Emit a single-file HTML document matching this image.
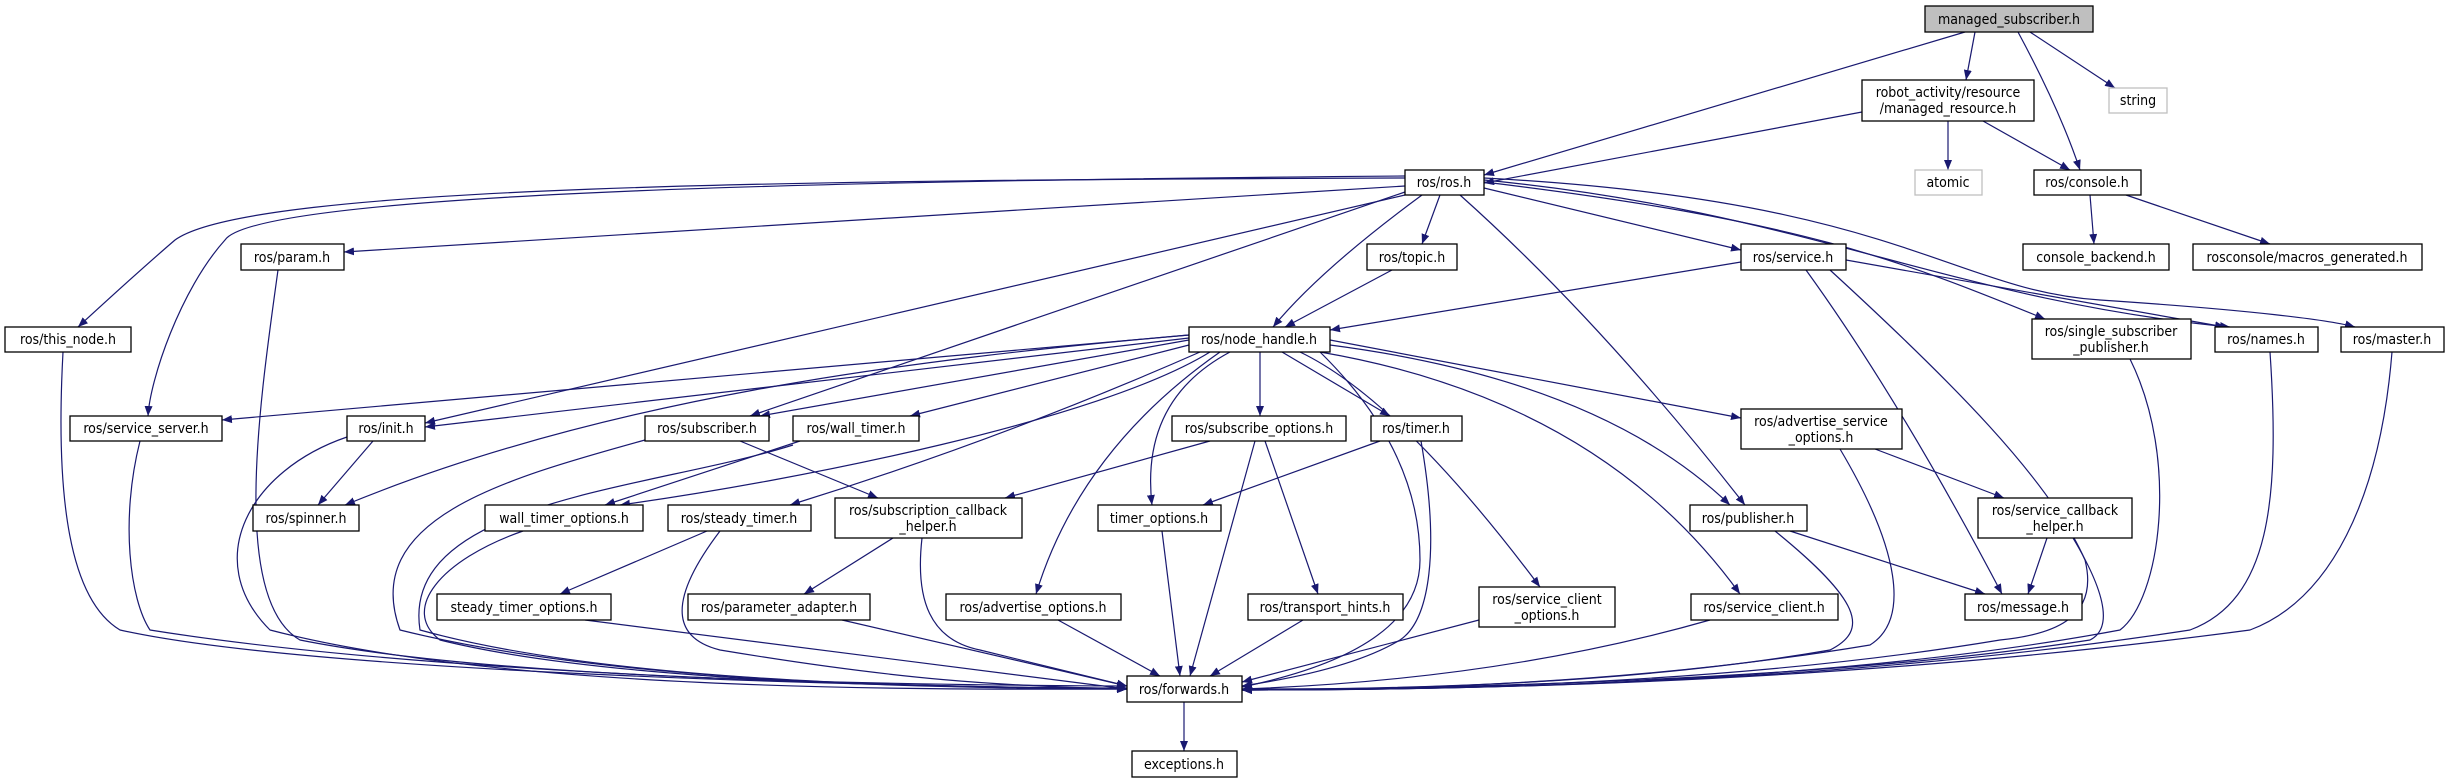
<!DOCTYPE html>
<html><head><meta charset="utf-8"><style>
html,body{margin:0;padding:0;background:#fff;}
svg{display:block;}
text{font-family:"DejaVu Sans Condensed","DejaVu Sans","Liberation Sans",sans-serif;font-size:14px;fill:#000;}
.e{fill:none;stroke:#191970;stroke-width:1.2;marker-end:url(#a);}
.b{fill:#fff;stroke:#000;stroke-width:1.3;}
.g{fill:#fff;stroke:#bfbfbf;stroke-width:1.3;}
</style></head><body>
<svg width="2451" height="783" viewBox="0 0 2451 783" xmlns="http://www.w3.org/2000/svg">
<defs><marker id="a" markerWidth="10" markerHeight="8" refX="10" refY="4" orient="auto" markerUnits="userSpaceOnUse"><path d="M0,0 L10,4 L0,8z" fill="#191970"/></marker></defs>
<g>
<path class="e" d="M1975,32 L1966,80"/>
<path class="e" d="M1965,32 L1484,175"/>
<path class="e" d="M2018,32 Q2060,110 2080,170"/>
<path class="e" d="M2030,32 L2115,88"/>
<path class="e" d="M1862,112 L1484,183"/>
<path class="e" d="M1948,121 L1948,170"/>
<path class="e" d="M1983,121 L2070,170"/>
<path class="e" d="M2090,195 L2094,244"/>
<path class="e" d="M2126,195 L2270,244"/>
<path class="e" d="M1405,178 C800,180 250,185 175,240 Q140,270 78,327"/>
<path class="e" d="M1405,186 L344,252"/>
<path class="e" d="M1440,195 L1422,244"/>
<path class="e" d="M1422,195 Q1320,270 1273,327"/>
<path class="e" d="M1484,188 L1741,250"/>
<path class="e" d="M1484,182 C1800,220 1900,260 2045,319"/>
<path class="e" d="M1484,180 C1800,210 1950,300 2230,327"/>
<path class="e" d="M1484,178 C1900,200 1950,290 2100,300 C2250,310 2330,320 2355,327"/>
<path class="e" d="M1405,176 C900,180 260,190 225,240 C180,290 150,380 148,416"/>
<path class="e" d="M1405,195 L425,423"/>
<path class="e" d="M1405,192 L750,416"/>
<path class="e" d="M1460,195 Q1600,320 1745,505"/>
<path class="e" d="M1189,335 C900,360 600,400 345,505"/>
<path class="e" d="M1392,270 L1285,327"/>
<path class="e" d="M1741,262 L1330,330"/>
<path class="e" d="M1846,260 L2225,327"/>
<path class="e" d="M1806,270 Q1900,400 2002,594"/>
<path class="e" d="M1830,270 C1950,380 2050,480 2085,560 C2100,620 2050,635 2000,640 Q1700,690 1242,690"/>
<path class="e" d="M1189,335 L222,420"/>
<path class="e" d="M1189,338 L425,427"/>
<path class="e" d="M1189,340 L760,416"/>
<path class="e" d="M1189,345 L910,416"/>
<path class="e" d="M1210,352 C1100,420 800,480 620,505"/>
<path class="e" d="M1200,352 Q1000,440 790,505"/>
<path class="e" d="M1260,352 L1260,416"/>
<path class="e" d="M1282,352 L1390,416"/>
<path class="e" d="M1230,352 Q1140,400 1152,505"/>
<path class="e" d="M1220,352 Q1080,450 1036,594"/>
<path class="e" d="M1300,352 Q1400,400 1540,587"/>
<path class="e" d="M1320,352 Q1600,400 1740,594"/>
<path class="e" d="M1330,345 Q1600,380 1730,505"/>
<path class="e" d="M1330,340 L1741,418"/>
<path class="e" d="M1320,352 Q1420,450 1420,560 Q1420,650 1242,687"/>
<path class="e" d="M278,270 C260,400 230,600 300,640 C500,680 900,685 1127,686"/>
<path class="e" d="M63,352 C55,500 70,600 120,630 C300,670 800,685 1127,689"/>
<path class="e" d="M140,441 C120,520 130,600 150,630 C400,670 800,685 1127,689"/>
<path class="e" d="M373,441 L318,505"/>
<path class="e" d="M347,437 C250,470 200,560 270,630 C500,690 900,690 1127,689"/>
<path class="e" d="M740,441 L878,498"/>
<path class="e" d="M645,440 C500,480 360,520 400,630 C600,680 900,688 1127,689"/>
<path class="e" d="M800,441 L605,505"/>
<path class="e" d="M793,445 C650,490 400,500 420,630 C600,680 900,688 1127,688"/>
<path class="e" d="M523,531 C440,560 400,610 440,640 C600,680 900,688 1127,689"/>
<path class="e" d="M707,531 L560,594"/>
<path class="e" d="M720,531 C660,610 680,640 720,650 C900,680 1000,686 1127,689"/>
<path class="e" d="M585,620 L1127,689"/>
<path class="e" d="M893,538 L804,594"/>
<path class="e" d="M922,538 C915,600 930,640 980,650 L1127,686"/>
<path class="e" d="M842,620 L1127,686"/>
<path class="e" d="M1210,441 L1005,498"/>
<path class="e" d="M1255,441 L1190,676"/>
<path class="e" d="M1265,441 L1318,594"/>
<path class="e" d="M1380,441 L1203,505"/>
<path class="e" d="M1421,441 C1440,550 1430,620 1400,640 Q1350,670 1242,686"/>
<path class="e" d="M1162,531 L1180,676"/>
<path class="e" d="M1058,620 L1160,676"/>
<path class="e" d="M1303,620 L1210,676"/>
<path class="e" d="M1479,620 L1242,682"/>
<path class="e" d="M1710,620 Q1500,680 1242,689"/>
<path class="e" d="M1790,531 L1985,594"/>
<path class="e" d="M1775,531 C1860,600 1870,630 1830,650 Q1600,690 1242,689"/>
<path class="e" d="M1875,449 L2004,498"/>
<path class="e" d="M1840,449 C1900,550 1910,620 1870,645 Q1600,690 1242,690"/>
<path class="e" d="M2047,538 L2028,594"/>
<path class="e" d="M2073,538 C2110,600 2110,630 2090,640 Q1800,685 1242,690"/>
<path class="e" d="M2130,359 C2180,460 2160,600 2120,630 Q1800,690 1242,690"/>
<path class="e" d="M2270,352 C2280,500 2270,600 2190,630 Q1800,690 1242,690"/>
<path class="e" d="M2392,352 C2380,500 2330,600 2250,630 Q1800,690 1242,690"/>
<path class="e" d="M1184,702 L1184,751"/>
</g>
<g>
<rect x="1925" y="6" width="168" height="26" fill="#bfbfbf" stroke="#000" stroke-width="1.3"/><text x="2009" y="24" text-anchor="middle">managed_subscriber.h</text>
<rect class="b" x="1862" y="80" width="172" height="41"/><text x="1948" y="97" text-anchor="middle">robot_activity/resource</text><text x="1948" y="113" text-anchor="middle">/managed_resource.h</text>
<rect class="g" x="2109" y="88" width="58" height="25"/><text x="2138" y="105" text-anchor="middle">string</text>
<rect class="b" x="1405" y="170" width="79" height="25"/><text x="1444" y="187" text-anchor="middle">ros/ros.h</text>
<rect class="g" x="1915" y="170" width="67" height="25"/><text x="1948" y="187" text-anchor="middle">atomic</text>
<rect class="b" x="2034" y="170" width="107" height="25"/><text x="2087" y="187" text-anchor="middle">ros/console.h</text>
<rect class="b" x="241" y="244" width="103" height="26"/><text x="292" y="262" text-anchor="middle">ros/param.h</text>
<rect class="b" x="1367" y="244" width="90" height="26"/><text x="1412" y="262" text-anchor="middle">ros/topic.h</text>
<rect class="b" x="1741" y="244" width="105" height="26"/><text x="1793" y="262" text-anchor="middle">ros/service.h</text>
<rect class="b" x="2023" y="244" width="146" height="26"/><text x="2096" y="262" text-anchor="middle">console_backend.h</text>
<rect class="b" x="2193" y="244" width="229" height="26"/><text x="2307" y="262" text-anchor="middle">rosconsole/macros_generated.h</text>
<rect class="b" x="5" y="327" width="126" height="25"/><text x="68" y="344" text-anchor="middle">ros/this_node.h</text>
<rect class="b" x="1189" y="327" width="141" height="25"/><text x="1259" y="344" text-anchor="middle">ros/node_handle.h</text>
<rect class="b" x="2032" y="319" width="159" height="40"/><text x="2111" y="336" text-anchor="middle">ros/single_subscriber</text><text x="2111" y="352" text-anchor="middle">_publisher.h</text>
<rect class="b" x="2215" y="327" width="103" height="25"/><text x="2266" y="344" text-anchor="middle">ros/names.h</text>
<rect class="b" x="2341" y="327" width="103" height="25"/><text x="2392" y="344" text-anchor="middle">ros/master.h</text>
<rect class="b" x="70" y="416" width="152" height="25"/><text x="146" y="433" text-anchor="middle">ros/service_server.h</text>
<rect class="b" x="347" y="416" width="78" height="25"/><text x="386" y="433" text-anchor="middle">ros/init.h</text>
<rect class="b" x="645" y="416" width="124" height="25"/><text x="707" y="433" text-anchor="middle">ros/subscriber.h</text>
<rect class="b" x="793" y="416" width="126" height="25"/><text x="856" y="433" text-anchor="middle">ros/wall_timer.h</text>
<rect class="b" x="1172" y="416" width="174" height="25"/><text x="1259" y="433" text-anchor="middle">ros/subscribe_options.h</text>
<rect class="b" x="1371" y="416" width="91" height="25"/><text x="1416" y="433" text-anchor="middle">ros/timer.h</text>
<rect class="b" x="1741" y="409" width="161" height="40"/><text x="1821" y="426" text-anchor="middle">ros/advertise_service</text><text x="1821" y="442" text-anchor="middle">_options.h</text>
<rect class="b" x="253" y="505" width="106" height="26"/><text x="306" y="523" text-anchor="middle">ros/spinner.h</text>
<rect class="b" x="485" y="505" width="158" height="26"/><text x="564" y="523" text-anchor="middle">wall_timer_options.h</text>
<rect class="b" x="668" y="505" width="143" height="26"/><text x="739" y="523" text-anchor="middle">ros/steady_timer.h</text>
<rect class="b" x="835" y="498" width="187" height="40"/><text x="928" y="515" text-anchor="middle">ros/subscription_callback</text><text x="928" y="531" text-anchor="middle">_helper.h</text>
<rect class="b" x="1098" y="505" width="123" height="26"/><text x="1159" y="523" text-anchor="middle">timer_options.h</text>
<rect class="b" x="1690" y="505" width="117" height="26"/><text x="1748" y="523" text-anchor="middle">ros/publisher.h</text>
<rect class="b" x="1978" y="498" width="154" height="40"/><text x="2055" y="515" text-anchor="middle">ros/service_callback</text><text x="2055" y="531" text-anchor="middle">_helper.h</text>
<rect class="b" x="437" y="594" width="174" height="26"/><text x="524" y="612" text-anchor="middle">steady_timer_options.h</text>
<rect class="b" x="688" y="594" width="182" height="26"/><text x="779" y="612" text-anchor="middle">ros/parameter_adapter.h</text>
<rect class="b" x="946" y="594" width="175" height="26"/><text x="1033" y="612" text-anchor="middle">ros/advertise_options.h</text>
<rect class="b" x="1248" y="594" width="155" height="26"/><text x="1325" y="612" text-anchor="middle">ros/transport_hints.h</text>
<rect class="b" x="1479" y="587" width="136" height="40"/><text x="1547" y="604" text-anchor="middle">ros/service_client</text><text x="1547" y="620" text-anchor="middle">_options.h</text>
<rect class="b" x="1691" y="594" width="147" height="26"/><text x="1764" y="612" text-anchor="middle">ros/service_client.h</text>
<rect class="b" x="1965" y="594" width="117" height="26"/><text x="2023" y="612" text-anchor="middle">ros/message.h</text>
<rect class="b" x="1127" y="676" width="115" height="26"/><text x="1184" y="694" text-anchor="middle">ros/forwards.h</text>
<rect class="b" x="1132" y="751" width="105" height="26"/><text x="1184" y="769" text-anchor="middle">exceptions.h</text>
</g>
</svg>
</body></html>
